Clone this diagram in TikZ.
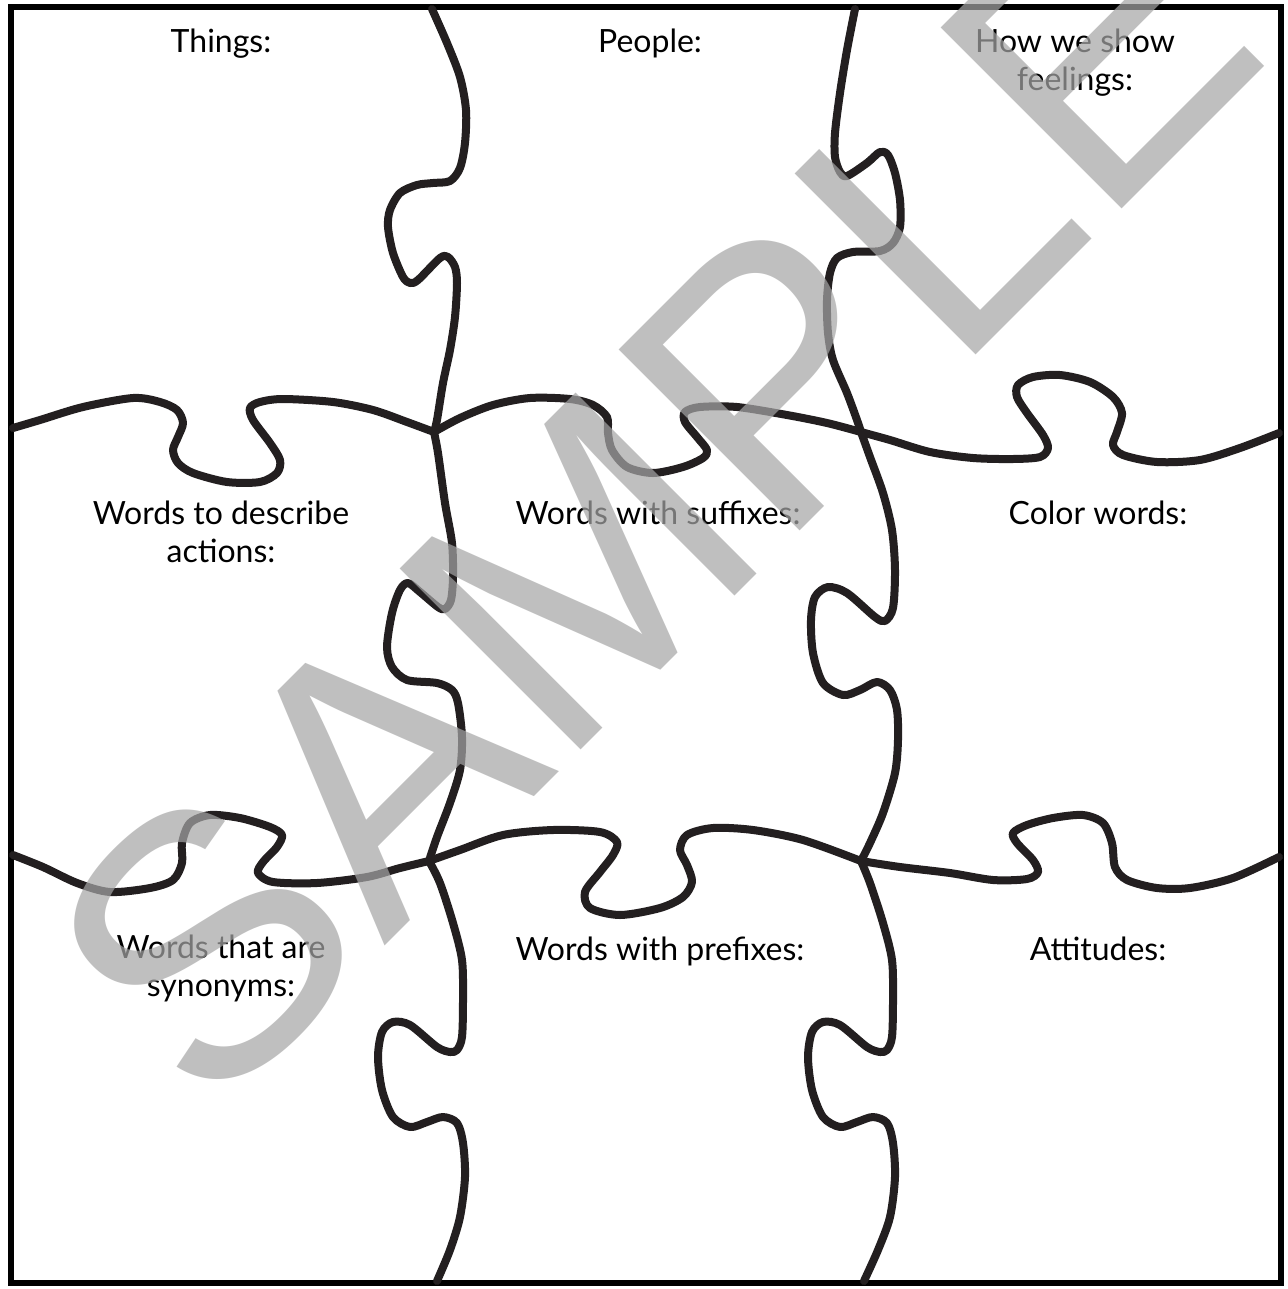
\documentclass[tikz,border=0pt]{standalone}
\usepackage{fontspec}
\setmainfont{Lato}
\newfontfamily\wmfont{Liberation Sans}
\definecolor{ink}{HTML}{231F20}
\definecolor{wmgray}{HTML}{A6A6A6}
\begin{document}
\begin{tikzpicture}[x=0.75pt,y=-0.75pt,
  piece/.style={draw=ink,line width=6pt,line cap=round,line join=round},
  lbl/.style={font=\fontsize{24}{28.5}\selectfont,text=black,inner sep=0pt,anchor=base}]
\useasboundingbox (0,0) rectangle (1288,1289);
\fill[white] (0,0) rectangle (1288,1289);
% frame
\draw[line width=4.8pt,black] (11,7) rectangle (1281,1283);
% junctions
\coordinate (J1) at (434,432);
\coordinate (J2) at (861,432);
\coordinate (J3) at (429,861);
\coordinate (J4) at (861,861);
% vertical line 1
\draw[piece] plot[smooth,tension=0.5] coordinates {(432,9) (447,43) (460,77) (466,110) (465,143) (460,168) (450,181) (433,183) (417,185) (400,193) (390,210) (388,227) (393,253) (403,277) (410,283) (418,280) (440,258) (448,257) (455,267) (457,283) (455,317) (450,350) (443,383) (437,420) (434,432)};
\draw[piece] plot[smooth,tension=0.5] coordinates {(434,432) (438,453) (445,503) (452,543) (453,577) (451,600) (445,609) (438,607) (420,592) (408,583) (400,590) (392,613) (387,647) (392,667) (407,680) (437,683) (452,690) (458,703) (462,737) (460,770) (450,803) (437,837) (429,861)};
\draw[piece] plot[smooth,tension=0.5] coordinates {(429,861) (440,883) (453,923) (462,960) (463,1000) (462,1037) (457,1050) (450,1052) (437,1047) (410,1025) (393,1022) (382,1032) (378,1057) (382,1090) (393,1117) (410,1127) (427,1122) (443,1117) (457,1123) (463,1143) (465,1177) (460,1217) (450,1250) (437,1281)};
% vertical line 2
\draw[piece] plot[smooth,tension=0.5] coordinates {(855,9) (847,50) (840,93) (835,133) (835,157) (840,172) (847,176) (867,163) (880,152) (888,155) (895,173) (900,200) (900,227) (893,243) (880,251) (853,252) (837,258) (830,273) (827,300) (828,333) (833,360) (847,393) (857,420) (861,432)};
\draw[piece] plot[smooth,tension=0.5] coordinates {(861,432) (870,457) (883,493) (892,530) (895,570) (893,608) (885,621) (875,617) (847,593) (828,587) (815,597) (811,620) (813,653) (823,683) (843,695) (860,690) (877,682) (890,690) (897,710) (898,740) (895,773) (883,813) (870,843) (861,861)};
\draw[piece] plot[smooth,tension=0.5] coordinates {(861,861) (870,883) (883,923) (892,960) (893,1000) (892,1037) (887,1050) (880,1052) (867,1047) (840,1025) (823,1022) (812,1032) (808,1057) (812,1090) (823,1117) (840,1127) (857,1122) (873,1117) (887,1123) (893,1143) (895,1177) (890,1217) (878,1250) (864,1281)};
% horizontal line 1
\draw[piece] plot[smooth,tension=0.5] coordinates {(13,428) (40,420) (83,407) (133,398) (160,402) (177,410) (183,423) (178,437) (173,450) (178,463) (193,473) (227,482) (260,482) (277,473) (280,460) (270,443) (253,420) (250,408) (260,402) (283,399) (333,402) (373,410) (407,422) (434,432)};
\draw[piece] plot[smooth,tension=0.5] coordinates {(434,432) (460,418) (493,405) (530,398) (570,399) (593,405) (607,417) (608,433) (612,450) (627,467) (653,473) (683,467) (703,458) (707,450) (697,437) (685,422) (685,412) (700,407) (737,407) (787,415) (827,423) (861,432)};
\draw[piece] plot[smooth,tension=0.5] coordinates {(861,432) (890,440) (930,452) (973,458) (1013,459) (1040,457) (1048,448) (1043,435) (1027,413) (1017,397) (1018,385) (1033,377) (1060,375) (1090,382) (1113,397) (1122,413) (1117,432) (1113,445) (1123,455) (1157,462) (1200,460) (1240,448) (1279,433)};
% horizontal line 2
\draw[piece] plot[smooth,tension=0.5] coordinates {(13,855) (43,867) (77,883) (110,892) (150,888) (173,880) (182,863) (182,843) (190,823) (210,815) (240,818) (270,827) (282,835) (277,847) (263,862) (258,873) (273,882) (317,883) (367,877) (400,868) (429,861)};
\draw[piece] plot[smooth,tension=0.5] coordinates {(429,861) (460,850) (503,835) (553,830) (600,832) (617,842) (613,855) (600,872) (585,892) (590,908) (620,915) (660,908) (683,897) (692,882) (687,865) (680,850) (687,835) (713,828) (753,830) (803,840) (861,861)};
\draw[piece] plot[smooth,tension=0.5] coordinates {(861,861) (900,867) (950,873) (993,880) (1027,879) (1038,872) (1033,860) (1017,843) (1013,833) (1027,825) (1053,818) (1083,815) (1103,823) (1112,843) (1115,867) (1127,880) (1157,888) (1190,888) (1233,878) (1279,857)};
% labels
\node[lbl] (t1) at (221,52) {Things:};
\node[lbl] (t2) at (650,52) {People:};
\node[lbl] (t3a) at (1075,52) {How we show};
\node[lbl] (t3b) at (1075,90) {feelings:};
\node[lbl] (t4a) at (221,524) {Words to describe};
\node[lbl] (t4b) at (221,562) {actions:};
\node[lbl] (t5) at (658,524) {Words with suffixes:};
\node[lbl] (t6) at (1098,524) {Color words:};
\node[lbl] (t7a) at (221,958) {Words that are};
\node[lbl] (t7b) at (221,996) {synonyms:};
\node[lbl] (t8) at (660,960) {Words with prefixes:};
\node[lbl] (t9) at (1098,960) {Attitudes:};
% watermark
\begin{scope}
\clip (0,0) rectangle (1288,1289);
\node[rotate=45,text=wmgray,text opacity=0.71,inner sep=0pt,font=\wmfont\fontsize{279}{279}\selectfont] (wm) at (652,498) {SAMPLE};
\end{scope}
\end{tikzpicture}
\end{document}
